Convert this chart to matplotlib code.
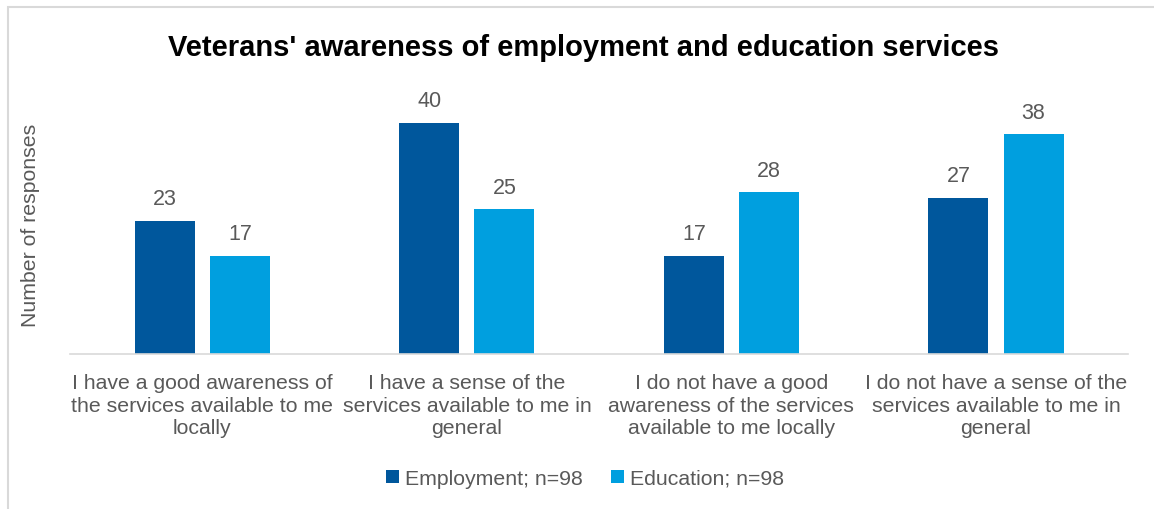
import matplotlib.pyplot as plt
from matplotlib.patches import Rectangle
import numpy as np

plt.rcParams['font.family'] = ['Liberation Sans', 'DejaVu Sans']

categories = ['I have a good awareness of\nthe services available to me\nlocally',
              'I have a sense of the\nservices available to me in\ngeneral',
              'I do not have a good\nawareness of the services\navailable to me locally',
              'I do not have a sense of the\nservices available to me in\ngeneral']
employment = [23, 40, 17, 27]
education = [17, 25, 28, 38]

dark_blue = '#00579C'
light_blue = '#009FDF'
grey_text = '#595959'

fig = plt.figure(figsize=(11.54, 5.10), dpi=100)
ax = fig.add_axes([0.0607, 0.304, 0.917, 0.510])

x = np.arange(len(categories))
w = 0.227
b1 = ax.bar(x - 0.142, employment, w, color=dark_blue, label='Employment; n=98')
b2 = ax.bar(x + 0.142, education, w, color=light_blue, label='Education; n=98')

for bars in (b1, b2):
    for bar in bars:
        ax.text(bar.get_x() + bar.get_width() / 2, bar.get_height() + 2.0,
                '%d' % bar.get_height(), ha='center', va='bottom',
                fontsize=15.5, color=grey_text)

ax.set_xlim(-0.5, 3.5)
ax.set_ylim(0, 45)
ax.set_xticks(x)
ax.set_xticklabels(categories, fontsize=15.3, color=grey_text, linespacing=1.22)
ax.tick_params(axis='x', length=0, pad=14)
ax.set_yticks([])
for s in ('top', 'right', 'left'):
    ax.spines[s].set_visible(False)
ax.spines['bottom'].set_color('#d9d9d9')
ax.spines['bottom'].set_linewidth(1.2)

ax.set_ylabel('Number of responses', fontsize=15.3, color=grey_text)
ax.yaxis.set_label_coords(-0.028, 0.5)

fig.text(0.506, 0.905, "Veterans' awareness of employment and education services",
         ha='center', va='center', fontsize=21, fontweight='bold', color='black')

fig.legend(loc='center', bbox_to_anchor=(0.507, 0.06), ncol=2, frameon=False,
           fontsize=15.3, labelcolor=grey_text, handlelength=0.6, handleheight=0.6,
           handletextpad=0.3, columnspacing=1.3)

# light outer frame
fig.patches.append(Rectangle((8 / 1154, -0.1), 1.2, (502 / 510) + 0.1,
                             transform=fig.transFigure, fill=False,
                             edgecolor='#d9d9d9', linewidth=1.5))

fig.savefig('out.png', dpi=100)
